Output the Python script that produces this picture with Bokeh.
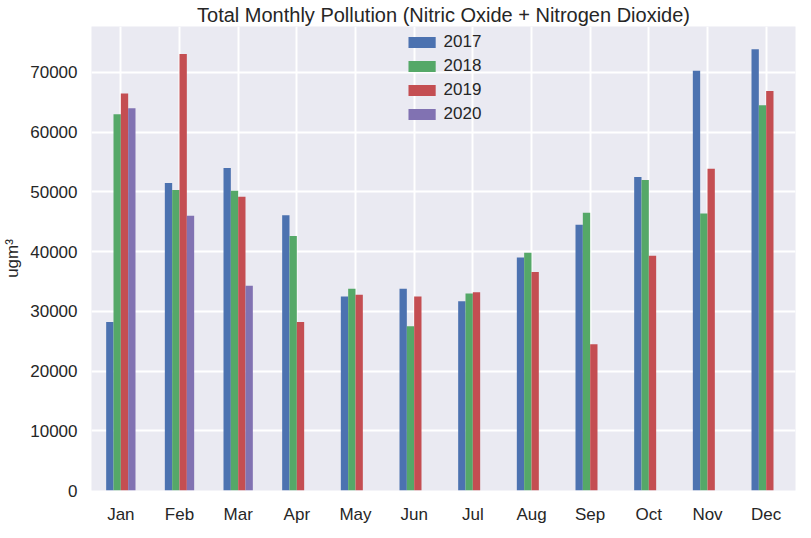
from bokeh.embed import file_html
from bokeh.resources import INLINE
from bokeh.models import ColumnDataSource, FactorRange, Range1d, Legend, LegendItem
from bokeh.plotting import figure
from bokeh.transform import dodge

months = ["Jan", "Feb", "Mar", "Apr", "May", "Jun", "Jul", "Aug", "Sep", "Oct", "Nov", "Dec"]
y2017 = [28200, 51500, 54000, 46100, 32500, 33800, 31700, 39000, 44500, 52500, 70300, 73900]
y2018 = [63000, 50300, 50200, 42600, 33800, 27500, 33000, 39800, 46500, 52000, 46400, 64500]
y2019 = [66500, 73100, 49200, 28200, 32800, 32500, 33200, 36600, 24500, 39300, 53900, 66900]
y2020 = [64000, 46000, 34300, 0, 0, 0, 0, 0, 0, 0, 0, 0]

series = [("2017", y2017, "#4C72B0"), ("2018", y2018, "#55A868"),
          ("2019", y2019, "#C44E52"), ("2020", y2020, "#8172B2")]

source = ColumnDataSource(data={"month": months, "2017": y2017, "2018": y2018,
                                "2019": y2019, "2020": y2020})

FONT = "Liberation Sans"

p = figure(x_range=FactorRange(*months, range_padding=0), y_range=Range1d(0, 77700),
           width=797, height=526, output_backend="svg", toolbar_location=None,
           title="Total Monthly Pollution (Nitric Oxide + Nitrogen Dioxide)",
           min_border_right=2, min_border_left=8, min_border_bottom=0, min_border_top=0)
p.background_fill_color = "#EAEAF2"
p.border_fill_color = "white"
p.outline_line_color = None
p.title.align = "center"
p.title.text_font = FONT
p.title.text_font_size = "20px"
p.title.text_font_style = "normal"
p.title.text_color = "#262626"
p.title.standoff = 2

p.grid.grid_line_color = "white"
p.grid.grid_line_width = 2
p.axis.axis_line_color = None
p.axis.major_tick_line_color = None
p.axis.minor_tick_line_color = None
p.axis.major_label_text_font = FONT
p.axis.major_label_text_font_size = "17px"
p.axis.major_label_text_color = "#262626"
p.axis.major_label_standoff = 8
p.yaxis.axis_label = "ugm³"
p.yaxis.axis_label_text_font = FONT
p.yaxis.axis_label_text_font_size = "17px"
p.yaxis.axis_label_text_font_style = "normal"
p.yaxis.axis_label_text_color = "#262626"
p.yaxis.ticker = [0, 10000, 20000, 30000, 40000, 50000, 60000, 70000]
p.yaxis.formatter.use_scientific = False

items = []
offsets = [-0.1875, -0.0625, 0.0625, 0.1875]
for (name, vals, color), off in zip(series, offsets):
    r = p.vbar(x=dodge("month", off, range=p.x_range), top=name, width=0.125,
               source=source, fill_color=color, line_color=None)
    items.append(LegendItem(label=name, renderers=[r]))

legend = Legend(items=items, location="top_center", background_fill_alpha=0,
                border_line_color=None, label_text_font=FONT,
                label_text_font_size="17px", label_text_color="#262626",
                glyph_width=34, glyph_height=14, spacing=4, margin=6)
p.add_layout(legend, "center")

open("out.html", "w").write(file_html(p, INLINE))
